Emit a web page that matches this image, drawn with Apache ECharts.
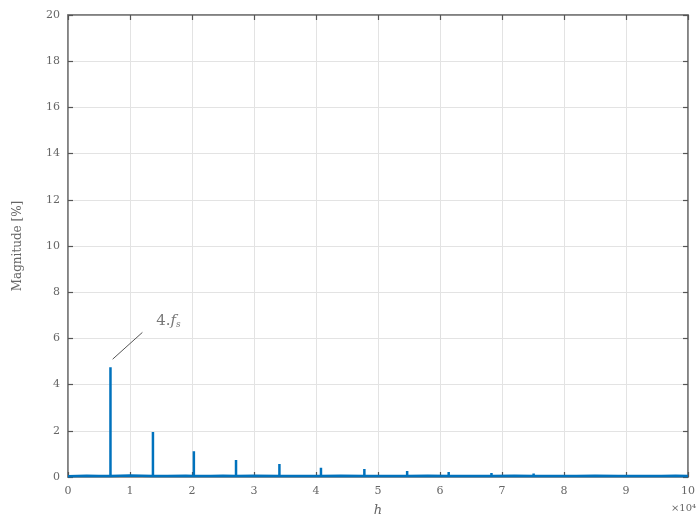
<!DOCTYPE html>
<html>
<head>
<meta charset="utf-8">
<script src="https://cdn.jsdelivr.net/npm/echarts@6/dist/echarts.min.js"></script>
<style>
  html, body { margin: 0; padding: 0; background: #ffffff; }
  #chart { width: 698px; height: 522px; }
</style>
</head>
<body>
<div id="chart"></div>
<script>
// Harmonic spectrum: spike frequencies (x10^4) and magnitudes in percent
const spikeFreq = [0.685, 1.37, 2.03, 2.71, 3.41, 4.08, 4.78, 5.47, 6.14, 6.83, 7.51, 8.2, 8.88, 9.57];
const spikeMag  = [4.75, 1.95, 1.12, 0.74, 0.56, 0.40, 0.35, 0.26, 0.22, 0.17, 0.15, 0.10, 0.09, 0.08];

// Low-level noise floor between the harmonics
const floorFreq = [0, 0.3, 0.5, 1.0, 1.6, 1.9, 2.3, 2.5, 3.0, 3.7, 4.4, 5.0, 5.8, 6.5, 7.2, 7.9, 8.5, 9.2, 9.8, 10];
const floorMag  = [0.03, 0.05, 0.04, 0.06, 0.04, 0.05, 0.04, 0.05, 0.05, 0.04, 0.05, 0.04, 0.05, 0.04, 0.05, 0.04, 0.05, 0.04, 0.05, 0.04];

// Axis ticks
const xTicks = [0, 1, 2, 3, 4, 5, 6, 7, 8, 9, 10];
const yTicks = [0, 2, 4, 6, 8, 10, 12, 14, 16, 18, 20];

// Callout for the first harmonic
const calloutLine = [[0.72, 5.1], [1.2, 6.26]];
const calloutText = [1.62, 6.75];

// Merge floor and spikes into one ordered trace
const points = [];
floorFreq.forEach((f, i) => points.push({ f: f, v: floorMag[i], spike: false }));
spikeFreq.forEach((f, i) => points.push({ f: f, v: spikeMag[i], spike: true }));
points.sort((a, b) => a.f - b.f);
const trace = [];
points.forEach(p => {
  if (p.spike) {
    trace.push([p.f, 0.04], [p.f, p.v], [p.f, 0.04]);
  } else {
    trace.push([p.f, p.v]);
  }
});

const serif = '"DejaVu Serif", "Liberation Serif", serif';
const axisGrey = '#7a7a7a';
const textGrey = '#666666';
const gridGrey = '#e3e3e3';
const tickStyle = { show: true, inside: true, length: 5, lineStyle: { color: '#555', width: 1.2 } };

const chart = echarts.init(document.getElementById('chart'));
chart.setOption({
  animation: false,
  backgroundColor: '#ffffff',
  grid: {
    left: 68, right: 3, top: 15, bottom: 44, containLabel: false,
    show: true, borderColor: axisGrey, borderWidth: 1.5, backgroundColor: 'transparent'
  },
  xAxis: [
    {
      type: 'value', min: xTicks[0], max: xTicks[xTicks.length - 1], interval: 1,
      axisLine: { show: true, onZero: false, lineStyle: { color: axisGrey, width: 1.5 } },
      axisTick: tickStyle,
      axisLabel: { color: textGrey, fontFamily: serif, fontSize: 11, margin: 9 },
      splitLine: { show: true, lineStyle: { color: gridGrey, width: 1 } },
      name: 'h', nameLocation: 'middle', nameGap: 27,
      nameTextStyle: { color: textGrey, fontFamily: serif, fontStyle: 'italic', fontSize: 13 }
    },
    {
      type: 'value', position: 'top', min: xTicks[0], max: xTicks[xTicks.length - 1], interval: 1,
      axisLine: { show: true, onZero: false, lineStyle: { color: axisGrey, width: 1.5 } },
      axisTick: tickStyle,
      axisLabel: { show: false }, splitLine: { show: false }
    }
  ],
  yAxis: [
    {
      type: 'value', min: yTicks[0], max: yTicks[yTicks.length - 1], interval: 2,
      axisLine: { show: true, onZero: false, lineStyle: { color: axisGrey, width: 1.5 } },
      axisTick: tickStyle,
      axisLabel: { color: textGrey, fontFamily: serif, fontSize: 11, margin: 8 },
      splitLine: { show: true, lineStyle: { color: gridGrey, width: 1 } },
      name: 'Magnitude [%]', nameLocation: 'middle', nameGap: 44,
      nameTextStyle: { color: textGrey, fontFamily: serif, fontSize: 12 }
    },
    {
      type: 'value', position: 'right', min: yTicks[0], max: yTicks[yTicks.length - 1], interval: 2,
      axisLine: { show: true, onZero: false, lineStyle: { color: axisGrey, width: 1.5 } },
      axisTick: tickStyle,
      axisLabel: { show: false }, splitLine: { show: false }
    }
  ],
  graphic: [
    {
      type: 'text', right: 2, top: 503,
      style: {
        text: '×10⁴', fill: textGrey, font: '10px "DejaVu Serif", serif', align: 'right'
      }
    }
  ],
  series: [
    {
      type: 'line', data: trace, showSymbol: false, symbol: 'none',
      lineStyle: { color: '#0072BD', width: 2.5 },
      z: 3,
      markLine: {
        silent: true, symbol: 'none', animation: false,
        lineStyle: { color: '#555', width: 1, type: 'solid' },
        label: { show: false },
        data: [[{ coord: calloutLine[0] }, { coord: calloutLine[1] }]]
      }
    },
    {
      type: 'line', xAxisIndex: 1, yAxisIndex: 1, data: [], silent: true
    },
    {
      type: 'scatter', data: [calloutText], symbolSize: 0,
      label: {
        show: true, position: 'inside',
        formatter: '{a|4.}{b|f}{s|s}',
        rich: {
          a: { fontFamily: serif, fontSize: 15, color: '#555' },
          b: { fontFamily: serif, fontSize: 15, fontStyle: 'italic', color: '#555' },
          s: { fontFamily: serif, fontSize: 9, fontStyle: 'italic', color: '#555', verticalAlign: 'bottom', padding: [8, 0, 0, 0] }
        }
      }
    }
  ]
});
</script>
</body>
</html>
